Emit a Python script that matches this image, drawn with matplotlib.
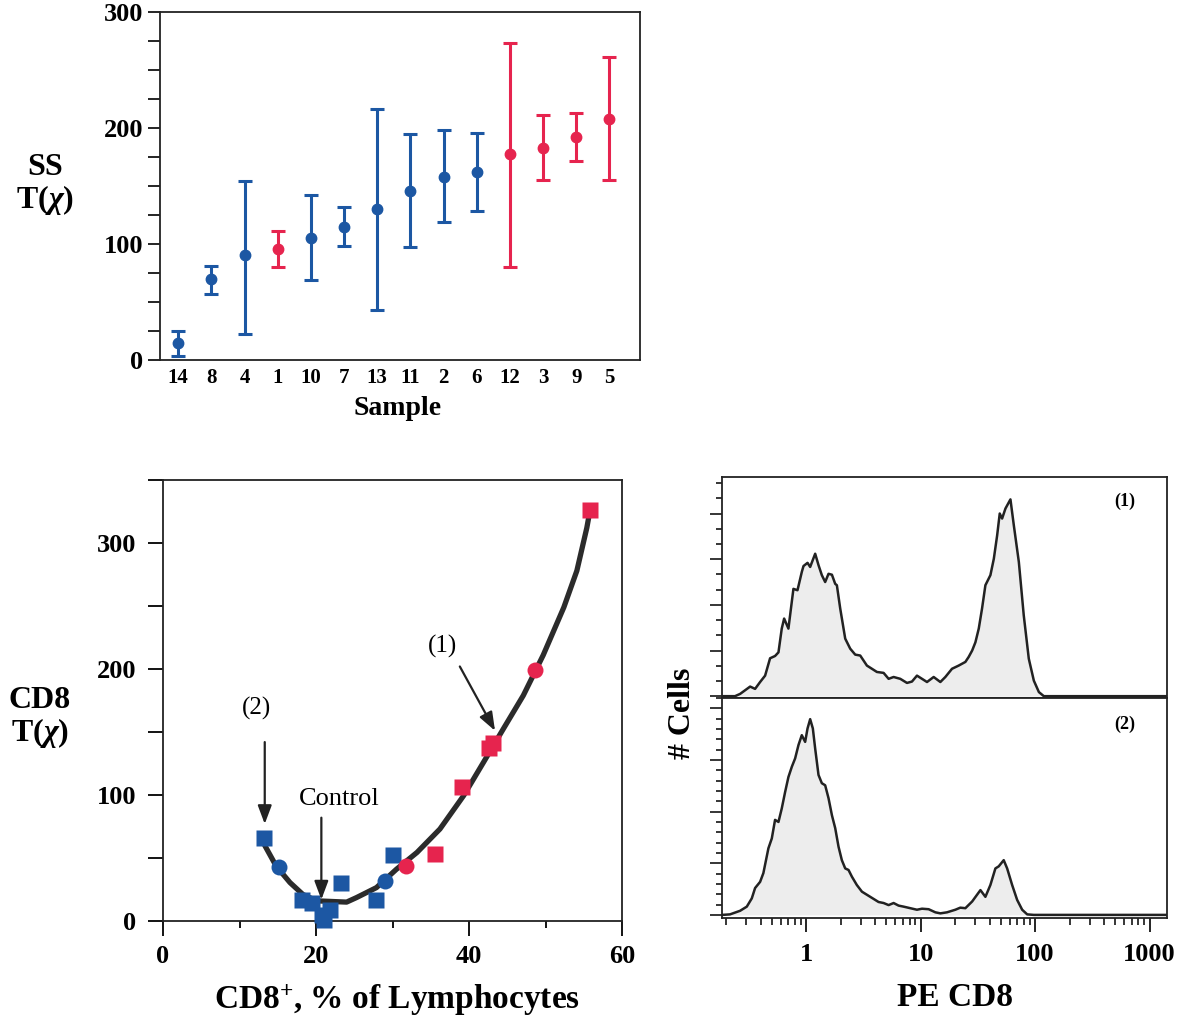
import matplotlib
matplotlib.use('Agg')
import matplotlib.pyplot as plt
from matplotlib.ticker import MultipleLocator, FixedLocator, NullFormatter

plt.rcParams['font.family'] = ['Liberation Serif', 'DejaVu Serif']
plt.rcParams['mathtext.fontset'] = 'custom'
plt.rcParams['mathtext.rm'] = 'Liberation Serif:bold'
plt.rcParams['mathtext.bf'] = 'Liberation Serif:bold'
plt.rcParams['mathtext.it'] = 'Liberation Serif:italic:bold'

BLUE = '#1c57a3'
RED = '#e6244e'
INK = '#222222'

# --- top panel: SS T(chi) per sample ---
samples = ['14', '8', '4', '1', '10', '7', '13', '11', '2', '6', '12', '3', '9', '5']
ss_mean = [14.4, 69.5, 90.4, 95.6, 104.8, 114.8, 129.8, 146, 158, 162, 178, 183, 192.4, 208]
ss_low = [3.4, 57, 22.4, 80.4, 69, 98.5, 43, 97, 118.6, 128.6, 80, 155, 171.4, 155]
ss_high = [25, 81, 154.7, 111, 142, 131.5, 216.8, 194.7, 198, 196, 273.6, 211, 212.5, 261]
ss_group = ['b', 'b', 'b', 'r', 'b', 'b', 'b', 'b', 'b', 'b', 'r', 'r', 'r', 'r']

# --- bottom left: CD8 T(chi) vs CD8+ % ---
blue_sq_x = [13.2, 18.2, 19.5, 20.8, 21.0, 21.8, 23.3, 27.8, 30.1]
blue_sq_y = [66, 17, 14, 5, 1, 9, 30, 17, 52]
blue_ci_x = [15.1, 29.0]
blue_ci_y = [42.5, 32]
red_sq_x = [35.6, 39.1, 42.6, 43.2, 55.8]
red_sq_y = [53, 106, 137, 141, 326]
red_ci_x = [31.8, 48.6]
red_ci_y = [44, 199]
fit_x = [13.3, 14.8, 16.6, 18.3, 20.1, 24.0, 25.3, 27.9, 30.5, 33.2, 36.2, 39.3,
         41.9, 44.5, 47.1, 49.7, 52.4, 54.1, 55.4, 55.7]
fit_y = [60, 43.5, 30.5, 21, 16, 15, 18.6, 26.5, 41, 54.4, 73, 99.5,
         126, 152.6, 179, 211, 249, 278, 312, 322]

# --- right: PE CD8 histograms (1) and (2) ---
h1_x = [0.185, 0.239, 0.265, 0.324, 0.358, 0.396, 0.438, 0.484, 0.535, 0.573, 0.612,
        0.642, 0.700, 0.774, 0.840, 0.916, 0.948, 1.028, 1.084, 1.199, 1.282, 1.371,
        1.466, 1.568, 1.679, 1.794, 1.855, 1.984, 2.194, 2.426, 2.683, 2.967, 3.394,
        3.754, 4.151, 4.749, 5.252, 5.807, 6.64, 7.60, 8.40, 9.29, 10.28, 11.37, 13.0,
        14.87, 16.44, 18.8, 21.5, 24.6, 26.3, 28.2, 30.1, 32.2, 34.4, 36.8, 40.7, 43.6,
        46.6, 49.1, 51.5, 55.1, 60.9, 65.2, 72.1, 79.6, 88.1, 97.5, 107.9, 119.2, 1420]
h1_y = [0, 0, 0.05, 0.21, 0.16, 0.31, 0.45, 0.83, 0.88, 0.96, 1.48,
        1.70, 1.48, 2.35, 2.32, 2.72, 2.85, 2.92, 2.83, 3.12, 2.87, 2.65,
        2.50, 2.68, 2.66, 2.46, 2.43, 1.92, 1.26, 1.04, 0.91, 0.89, 0.67,
        0.60, 0.53, 0.51, 0.38, 0.42, 0.38, 0.29, 0.32, 0.45, 0.38, 0.31, 0.42,
        0.31, 0.42, 0.60, 0.67, 0.75, 0.86, 1.00, 1.18, 1.48, 1.92, 2.43, 2.65, 3.01,
        3.52, 4.00, 3.89, 4.11, 4.31, 3.74, 2.94, 1.77, 0.82, 0.34, 0.09, 0, 0]
h2_x = [0.185, 0.216, 0.265, 0.303, 0.335, 0.358, 0.396, 0.423, 0.468, 0.501, 0.535,
        0.573, 0.612, 0.655, 0.700, 0.750, 0.801, 0.857, 0.916, 0.980, 1.028, 1.084,
        1.144, 1.199, 1.282, 1.371, 1.466, 1.568, 1.679, 1.794, 1.918, 2.05, 2.194,
        2.345, 2.51, 2.77, 3.07, 3.394, 3.88, 4.29, 4.749, 5.252, 5.807, 6.42, 7.10,
        8.12, 9.29, 10.28, 11.75, 13.45, 14.87, 17.0, 20.1, 22.2, 24.6, 28.2, 31.1,
        33.3, 36.8, 40.7, 45.0, 48.1, 53.2, 57.0, 63.0, 69.7, 77.1, 85.3, 97.5, 1420]
h2_y = [0, 0.01, 0.08, 0.16, 0.32, 0.52, 0.64, 0.81, 1.29, 1.48, 1.84,
        1.80, 2.06, 2.38, 2.67, 2.87, 3.03, 3.29, 3.48, 3.35, 3.61, 3.79,
        3.61, 3.22, 2.71, 2.55, 2.51, 2.26, 1.93, 1.68, 1.32, 1.06, 0.90,
        0.87, 0.74, 0.58, 0.45, 0.39, 0.31, 0.25, 0.23, 0.19, 0.23, 0.18, 0.16,
        0.13, 0.10, 0.12, 0.11, 0.05, 0.03, 0.05, 0.10, 0.14, 0.13, 0.26, 0.39,
        0.48, 0.35, 0.58, 0.90, 0.94, 1.06, 0.90, 0.58, 0.29, 0.10, 0.01, 0, 0]
pe_ticks = [1, 10, 100, 1000]

W, H = 1192, 1021
fig = plt.figure(figsize=(W / 100, H / 100), dpi=100)


def box(l, t, r, b):
    return [l / W, 1 - b / H, (r - l) / W, (b - t) / H]


def frame(ax):
    for s in ax.spines.values():
        s.set_linewidth(1.3)
        s.set_color(INK)


# top panel
ax1 = fig.add_axes(box(160, 12, 640, 360))
frame(ax1)
for i, (m, lo, hi, g) in enumerate(zip(ss_mean, ss_low, ss_high, ss_group)):
    c = BLUE if g == 'b' else RED
    ax1.errorbar(i, m, yerr=[[m - lo], [hi - m]], fmt='o', color=c, ms=7.5,
                 capsize=5, elinewidth=2.2, capthick=2.2)
ax1.set_xlim(-0.55, 13.92)
ax1.set_ylim(0, 300)
ax1.set_xticks(range(len(samples)))
ax1.set_xticklabels(samples, fontsize=15, fontweight='bold')
ax1.tick_params(axis='x', length=0, pad=6)
ax1.yaxis.set_major_locator(MultipleLocator(100))
ax1.yaxis.set_minor_locator(MultipleLocator(25))
ax1.tick_params(axis='y', which='both', direction='out', length=9, width=1.2,
                labelsize=19, pad=3)
for lab in ax1.get_yticklabels():
    lab.set_fontweight('bold')
fig.text(398 / W, 1 - 408 / H, 'Sample', ha='center', va='center',
         fontsize=20, fontweight='bold')
fig.text(45 / W, 1 - 185 / H, 'SS\nT($\\chi$)', ha='center', va='center',
         fontsize=23, fontweight='bold', linespacing=1.05)

# bottom-left panel
ax2 = fig.add_axes(box(163, 480, 622, 921))
frame(ax2)
ax2.plot(fit_x, fit_y, color='#2b2b2b', lw=3.8, solid_capstyle='round', zorder=2)
ax2.plot(blue_sq_x, blue_sq_y, 's', color=BLUE, ms=12, mec='none', zorder=3, clip_on=False)
ax2.plot(blue_ci_x, blue_ci_y, 'o', color=BLUE, ms=11.5, mec='none', zorder=3)
ax2.plot(red_sq_x, red_sq_y, 's', color=RED, ms=12, mec='none', zorder=3)
ax2.plot(red_ci_x, red_ci_y, 'o', color=RED, ms=11.5, mec='none', zorder=3)
ax2.set_xlim(0, 60)
ax2.set_ylim(0, 350)
ax2.xaxis.set_major_locator(MultipleLocator(20))
ax2.xaxis.set_minor_locator(MultipleLocator(10))
ax2.yaxis.set_major_locator(MultipleLocator(100))
ax2.yaxis.set_minor_locator(MultipleLocator(50))
ax2.tick_params(axis='x', which='major', direction='out', length=11, width=1.3,
                labelsize=19, pad=6)
ax2.tick_params(axis='x', which='minor', direction='out', length=5, width=1.3)
ax2.tick_params(axis='y', which='both', direction='out', length=11, width=1.3,
                labelsize=19, pad=8)
for lab in ax2.get_xticklabels() + ax2.get_yticklabels():
    lab.set_fontweight('bold')

arrow = dict(arrowstyle='-|>,head_length=0.8,head_width=0.3', color=INK, lw=1.6,
             shrinkA=0, shrinkB=0, mutation_scale=14)
ax2.annotate('', xy=(13.3, 77), xytext=(13.3, 142), arrowprops=arrow)
ax2.annotate('', xy=(20.7, 17), xytext=(20.7, 82), arrowprops=arrow)
ax2.annotate('', xy=(43.4, 151), xytext=(38.8, 202), arrowprops=arrow)
ax2.text(12.2, 169, '(2)', ha='center', va='center', fontsize=18)
ax2.text(23.1, 97, 'Control', ha='center', va='center', fontsize=19)
ax2.text(36.6, 218, '(1)', ha='center', va='center', fontsize=18)
fig.text(397 / W, 1 - 1000 / H, r'CD8$^{+}$, % of Lymphocytes', ha='center',
         va='center', fontsize=24, fontweight='bold')
fig.text(40 / W, 1 - 718 / H, 'CD8\nT($\\chi$)', ha='center', va='center',
         fontsize=23, fontweight='bold', linespacing=1.05)

# right: histograms
ax3 = fig.add_axes(box(722, 477, 1167, 698))
ax4 = fig.add_axes(box(722, 698, 1167, 918), sharex=ax3)
for ax, hx, hy, tag in ((ax3, h1_x, h1_y, '(1)'), (ax4, h2_x, h2_y, '(2)')):
    frame(ax)
    ax.fill_between(hx, hy, 0, color='#ededed', lw=0)
    ax.plot(hx, hy, color=INK, lw=1.8)
    ax.set_xscale('log')
    ax.set_xlim(0.184, 1420)
    ax.text(0.905, 0.89 if tag == '(1)' else 0.88, tag, transform=ax.transAxes,
            ha='center', va='center', fontsize=13, fontweight='bold')
    ax.yaxis.set_major_formatter(NullFormatter())
    ax.tick_params(axis='y', which='major', direction='out', length=9, width=1.1)
    ax.tick_params(axis='y', which='minor', direction='out', length=4.5, width=1.1)
ax3.set_ylim(-0.04, 4.8)
ax3.yaxis.set_major_locator(MultipleLocator(1))
ax3.yaxis.set_minor_locator(MultipleLocator(1 / 3))
ax4.set_ylim(-0.06, 4.2)
ax4.yaxis.set_major_locator(MultipleLocator(1))
ax4.yaxis.set_minor_locator(MultipleLocator(0.2))
ax3.tick_params(axis='x', which='both', length=0, labelbottom=False)
ax4.xaxis.set_major_locator(FixedLocator(pe_ticks))
ax4.set_xticklabels([str(t) for t in pe_ticks], fontsize=19, fontweight='bold')
ax4.tick_params(axis='x', which='major', direction='out', length=10, width=1.2, pad=8)
ax4.tick_params(axis='x', which='minor', direction='out', length=5, width=1.1)
ax4.xaxis.set_minor_formatter(NullFormatter())
fig.text(955 / W, 1 - 997 / H, 'PE CD8', ha='center', va='center',
         fontsize=24, fontweight='bold')
fig.text(682 / W, 1 - 713 / H, '# Cells', ha='center', va='center',
         fontsize=23, fontweight='bold', rotation=90)

fig.savefig('out.png', dpi=100)
